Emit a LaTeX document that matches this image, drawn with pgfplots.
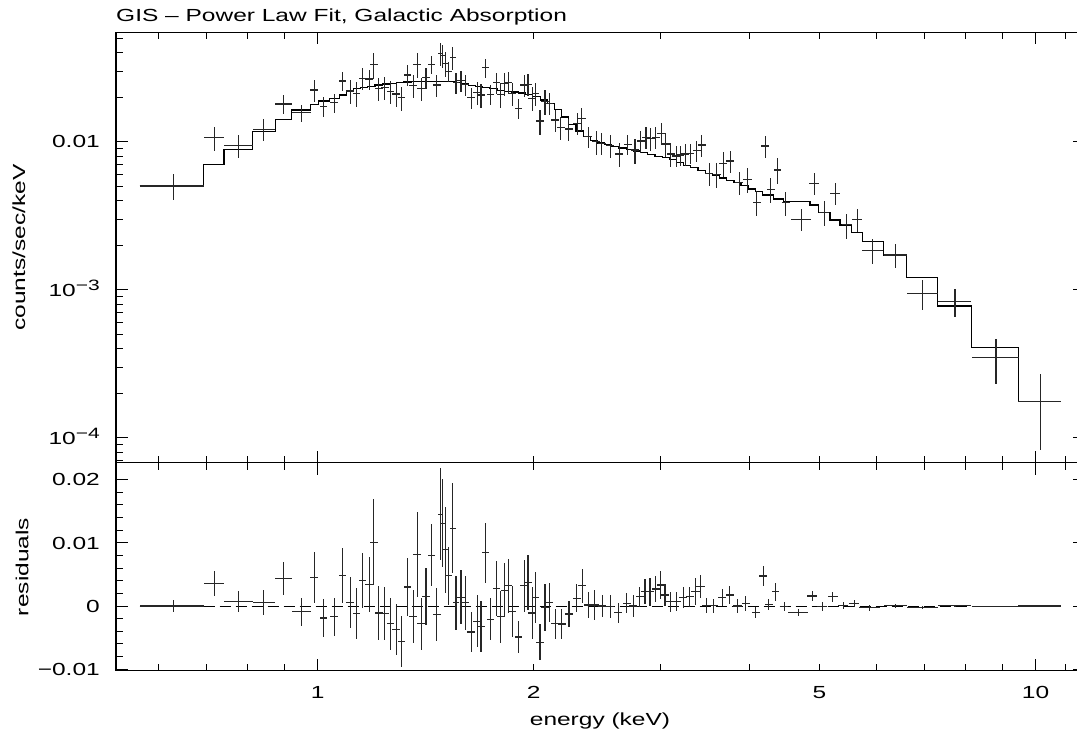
\documentclass[border=0pt]{standalone}
\usepackage{fontspec}
\setmainfont{Liberation Sans}[FakeStretch=1.4]
\usepackage{pgfplots}
\usepackage{pgfplotstable}
\pgfplotsset{compat=1.18}
\newcommand{\lbl}{\fontsize{17.5}{20}\selectfont}
\newcommand{\sups}[1]{\raisebox{6pt}{\fontsize{15}{15}\selectfont #1}}

% energy, counts/sec/keV, relative x half-width, relative y error
\pgfplotstableread{
E F dx dy
0.630 0.005018 0.103 0.20
0.7185 0.01064 0.032 0.19
0.7765 0.00940 0.0457 0.175
0.842 0.01212 0.0356 0.172
0.8966 0.01797 0.0268 0.142
0.9493 0.01570 0.0302 0.13
0.990 0.02234 0.0126 0.172
1.019 0.01724 0.012 0.154
1.055 0.01835 0.012 0.149
1.084 0.0257 0.012 0.147
1.110 0.02199 0.012 0.18
1.134 0.02121 0.012 0.187
1.156 0.02679 0.012 0.167
1.180 0.02651 0.012 0.152
1.198 0.03331 0.012 0.20
1.217 0.02293 0.012 0.18
1.241 0.02317 0.012 0.172
1.263 0.02177 0.012 0.18
1.287 0.02099 0.012 0.18
1.310 0.01983 0.012 0.19
1.334 0.02822 0.012 0.162
1.359 0.0239 0.012 0.175
1.376 0.03331 0.012 0.187
1.394 0.02293 0.012 0.18
1.416 0.02706 0.012 0.159
1.442 0.03331 0.012 0.145
1.466 0.02415 0.012 0.172
1.483 0.03953 0.008 0.175
1.494 0.03811 0.008 0.175
1.507 0.03383 0.008 0.19
1.524 0.02972 0.010 0.154
1.543 0.03695 0.010 0.18
1.559 0.02504 0.010 0.159
1.584 0.02584 0.012 0.164
1.607 0.0244 0.012 0.164
1.637 0.01993 0.012 0.162
1.668 0.02154 0.012 0.175
1.689 0.02067 0.012 0.184
1.715 0.03162 0.012 0.149
1.743 0.02088 0.012 0.154
1.774 0.02504 0.012 0.167
1.797 0.02088 0.012 0.187
1.823 0.02478 0.012 0.175
1.846 0.02517 0.012 0.167
1.867 0.02121 0.012 0.18
1.905 0.0168 0.012 0.159
1.940 0.02415 0.012 0.167
1.964 0.0244 0.012 0.167
1.990 0.01963 0.012 0.184
2.013 0.02121 0.012 0.18
2.041 0.0138 0.012 0.192
2.074 0.01864 0.012 0.192
2.103 0.01816 0.012 0.169
2.142 0.01401 0.012 0.167
2.182 0.01244 0.013 0.18
2.239 0.01218 0.013 0.167
2.301 0.0133 0.013 0.167
2.332 0.01438 0.013 0.175
2.383 0.01081 0.013 0.167
2.443 0.0100 0.013 0.187
2.488 0.00975 0.013 0.172
2.555 0.0094 0.013 0.172
2.630 0.00826 0.013 0.18
2.704 0.0096 0.013 0.154
2.768 0.00879 0.013 0.192
2.819 0.01011 0.013 0.167
2.867 0.0107 0.013 0.172
2.911 0.01054 0.013 0.175
2.958 0.0107 0.013 0.167
3.010 0.01139 0.013 0.167
3.055 0.00965 0.013 0.18
3.105 0.00826 0.013 0.184
3.158 0.0080 0.013 0.162
3.199 0.00813 0.013 0.154
3.251 0.00826 0.013 0.175
3.303 0.00835 0.013 0.159
3.374 0.0087 0.013 0.167
3.429 0.0095 0.013 0.169
3.511 0.00611 0.013 0.18
3.598 0.00602 0.013 0.192
3.676 0.00714 0.013 0.192
3.756 0.0074 0.013 0.169
3.870 0.00529 0.013 0.18
3.971 0.00557 0.013 0.195
4.092 0.00387 0.012 0.192
4.203 0.00935 0.012 0.172
4.279 0.00477 0.012 0.192
4.372 0.00644 0.012 0.197
4.491 0.00387 0.012 0.184
4.718 0.00299 0.032 0.172
4.922 0.00523 0.016 0.167
5.083 0.00332 0.016 0.192
5.260 0.00448 0.016 0.167
5.460 0.00274 0.016 0.192
5.650 0.00299 0.016 0.18
5.934 0.001836 0.034 0.192
6.386 0.001715 0.038 0.18
6.964 0.000945 0.049 0.229
7.725 0.000830 0.054 0.217
8.81 0.000349 0.075 0.334
10.15 0.0001751 0.068 0.53
}\spec

% energy, residual, relative x half-width, absolute y error
\pgfplotstableread{
E R dx dy
0.630 0 0.103 0.00087
0.7185 0.00358 0.032 0.002
0.7765 0.00068 0.0457 0.00166
0.842 0.00058 0.0356 0.002
0.8966 0.00437 0.0268 0.00263
0.9493 -0.0009 0.0302 0.0022
0.990 0.0045 0.0126 0.004
1.019 -0.0019 0.012 0.003
1.055 -0.0017 0.012 0.003
1.084 0.0048 0.012 0.0043
1.110 0.0006 0.012 0.004
1.134 -0.0012 0.012 0.004
1.156 0.0040 0.012 0.0043
1.180 0.0034 0.012 0.0043
1.198 0.0101 0.012 0.0068
1.217 -0.0011 0.012 0.0042
1.241 -0.0012 0.012 0.0042
1.263 -0.0028 0.012 0.0041
1.287 -0.0037 0.012 0.004
1.310 -0.0056 0.012 0.004
1.334 0.0030 0.012 0.0046
1.359 -0.0016 0.012 0.0042
1.376 0.0081 0.012 0.0067
1.394 -0.0028 0.012 0.0041
1.416 0.0015 0.012 0.0045
1.442 0.0080 0.012 0.0049
1.466 -0.0013 0.012 0.0042
1.483 0.0145 0.008 0.0073
1.494 0.0131 0.008 0.007
1.507 0.0089 0.008 0.0068
1.524 0.0048 0.010 0.0046
1.543 0.0123 0.010 0.0071
1.559 0.0005 0.010 0.0043
1.584 0.0014 0.012 0.0043
1.607 0.0005 0.012 0.0043
1.637 -0.0041 0.012 0.0032
1.668 -0.0024 0.012 0.0041
1.689 -0.0032 0.012 0.004
1.715 0.0084 0.012 0.0047
1.743 -0.0021 0.012 0.0033
1.774 0.0028 0.012 0.0043
1.797 -0.0017 0.012 0.0041
1.823 0.0025 0.012 0.0043
1.846 0.0032 0.012 0.0043
1.867 -0.0009 0.012 0.004
1.905 -0.0049 0.012 0.0026
1.940 0.0032 0.012 0.0041
1.964 0.0037 0.012 0.0043
1.990 -0.0011 0.012 0.0041
2.013 0.0013 0.012 0.004
2.041 -0.0057 0.012 0.0028
2.074 -0.0002 0.012 0.0037
2.103 0.0006 0.012 0.0031
2.142 -0.0028 0.012 0.0024
2.188 -0.00284 0.013 0.0023
2.240 -0.00126 0.013 0.002
2.296 0.00121 0.013 0.0022
2.338 0.00321 0.013 0.0027
2.383 0.00016 0.013 0.0021
2.434 0.00016 0.013 0.0024
2.492 0 0.013 0.0018
2.555 -0.0001 0.013 0.0018
2.624 -0.00105 0.013 0.0016
2.695 0.00042 0.013 0.0016
2.753 0 0.013 0.0018
2.812 0.00147 0.013 0.0016
2.858 0.00226 0.013 0.002
2.904 0.00226 0.013 0.0022
2.960 0.00269 0.013 0.0021
3.005 0.00332 0.013 0.0022
3.047 0.00174 0.013 0.0018
3.102 0.00068 0.013 0.0016
3.162 0.00068 0.013 0.0015
3.230 0.00137 0.013 0.0017
3.300 0.00147 0.013 0.0016
3.361 0.00226 0.013 0.0021
3.415 0.00305 0.013 0.0018
3.482 0.00005 0.013 0.0012
3.565 0.00005 0.013 0.0011
3.661 0.00132 0.013 0.0013
3.752 0.00174 0.013 0.0014
3.846 0 0.013 0.0011
3.950 0.00042 0.013 0.0012
4.078 -0.00105 0.012 0.0009
4.176 0.00474 0.012 0.0016
4.253 0.00026 0.012 0.0009
4.345 0.00226 0.012 0.0014
4.467 -0.0001 0.012 0.0007
4.672 -0.0010 0.032 0.0006
4.886 0.00158 0.016 0.0008
5.046 -0.0001 0.016 0.0007
5.216 0.00147 0.016 0.0008
5.397 0.00005 0.016 0.0006
5.590 0.00042 0.016 0.0005
5.878 -0.00026 0.034 0.00045
6.386 0.00005 0.038 0.0003
6.964 -0.00027 0.049 0.00022
7.725 0.00005 0.054 0.00018
8.81 -0.00006 0.075 0.00012
10.15 0 0.068 0.00009
}\resid

\begin{document}
\begin{tikzpicture}
\useasboundingbox (0,0) rectangle (1077pt,734pt);

\begin{axis}[scale only axis, width=969pt, height=430.4pt,
  at={(116pt,271.3pt)}, anchor=south west,
  xmode=log, xmin=0.5239, xmax=11.72,
  ymode=log, ymin=6.78e-5, ymax=0.05483,
  axis line style={line width=1.1pt}, tick style={line width=1pt, black},
  tick align=inside, major tick length=12pt, minor tick length=7pt,
  xtick={1,10}, minor xtick={0.6,0.7,0.8,0.9,2,3,4,5,6,7,8,9,11},
  xticklabels={},
  ytick={1e-4,1e-3,1e-2}, yticklabels={10\sups{−4},10\sups{−3},0.01},
  minor ytick={7e-5,8e-5,9e-5,2e-4,3e-4,4e-4,5e-4,6e-4,7e-4,8e-4,9e-4,2e-3,3e-3,4e-3,5e-3,6e-3,7e-3,8e-3,9e-3,0.02,0.03,0.04,0.05},
  yticklabel style={font=\lbl, anchor=base east, inner sep=0pt, xshift=-16pt, yshift=-6.3pt}]
\addplot[const plot mark left, black, line width=1.2pt] coordinates {
(0.565,5.02e-3) (0.6934,7.04e-3) (0.741,8.88e-3) (0.812,1.169e-2) (0.8727,1.417e-2)
(0.9206,1.637e-2) (0.978,1.789e-2) (1.003,1.884e-2) (1.038,1.964e-2) (1.072,2.068e-2)
(1.096,0.02225) (1.122,0.02285) (1.148,0.02335) (1.175,0.02371) (1.202,0.02413)
(1.230,0.02451) (1.259,0.02481) (1.288,0.02512) (1.318,0.02527) (1.349,0.02539)
(1.380,0.02543) (1.413,0.02543) (1.445,0.02543) (1.479,0.02543) (1.514,0.02543)
(1.549,0.02500) (1.585,0.02454) (1.622,0.02409) (1.660,0.02364) (1.698,0.02320)
(1.738,0.02274) (1.778,0.02228) (1.820,0.02194) (1.862,0.02163) (1.905,0.02130)
(1.950,0.02094) (1.995,0.02020) (2.042,0.01913) (2.089,0.01815) (2.138,0.01651)
(2.188,0.01469) (2.239,0.0130) (2.291,0.01180) (2.344,0.01079) (2.399,0.01015)
(2.455,0.009784) (2.512,0.009559) (2.570,0.00931) (2.630,0.009053) (2.692,0.00887)
(2.754,0.008652) (2.818,0.008426) (2.884,0.008193) (2.951,0.007966) (3.020,0.007772)
(3.090,0.007535) (3.162,0.007226) (3.236,0.00694) (3.311,0.006653) (3.388,0.006379)
(3.467,0.006107) (3.548,0.005884) (3.631,0.005685) (3.715,0.005495) (3.802,0.005293)
(3.890,0.005052) (3.981,0.004791) (4.074,0.004594) (4.169,0.004364) (4.314,0.00410)
(4.454,0.003932) (4.853,0.003736) (4.983,0.003314) (5.173,0.002958) (5.342,0.002735)
(5.546,0.002427) (5.745,0.002112) (6.138,0.001715) (6.616,0.001213) (7.298,7.76e-4)
(8.147,4.08e-4) (9.465,1.751e-4) (10.84,1.751e-4)};
\addplot[only marks, mark=text, text mark={},
  error bars/.cd, x dir=both, y dir=both,
  x explicit relative, y explicit relative, error mark=none,
  error bar style={line width=1.1pt, black!85}]
  table[x=E, y=F, x error=dx, y error=dy] {\spec};
\end{axis}

\begin{axis}[scale only axis, width=969pt, height=208pt,
  at={(116pt,63.3pt)}, anchor=south west,
  xmode=log, xmin=0.5239, xmax=11.72,
  ymin=-0.01022, ymax=0.02264, scaled y ticks=false,
  axis line style={line width=1.1pt}, tick style={line width=1pt, black},
  tick align=inside, major tick length=12pt, minor tick length=7pt,
  xtick={1,10}, xticklabels={1,10},
  extra x ticks={2,5}, extra x tick labels={2,5},
  extra x tick style={major tick length=7pt},
  minor xtick={0.6,0.7,0.8,0.9,3,4,6,7,8,9,11},
  xticklabel style={font=\lbl, anchor=base, inner sep=0pt, yshift=-27.6pt},
  ytick={-0.01,0,0.01,0.02}, yticklabels={−0.01,0,0.01,0.02}, minor y tick num=4,
  yticklabel style={font=\lbl, anchor=base east, inner sep=0pt, xshift=-16pt, yshift=-6.3pt}]
\addplot[black, line width=1pt, dash pattern=on 11pt off 5pt] coordinates {(0.565,0) (10.84,0)};
\addplot[only marks, mark=text, text mark={},
  error bars/.cd, x dir=both, y dir=both,
  x explicit relative, y explicit, error mark=none,
  error bar style={line width=1.1pt, black!85}]
  table[x=E, y=R, x error=dx, y error=dy] {\resid};
\end{axis}

\node[anchor=base west, inner sep=0pt, font=\lbl] at (116pt,712.7pt) {GIS – Power Law Fit, Galactic Absorption};
\node[rotate=90, anchor=base, inner sep=0pt, font=\lbl] at (25pt,486.5pt) {counts/sec/keV};
\node[rotate=90, anchor=base, inner sep=0pt, font=\lbl] at (28.3pt,167pt) {residuals};
\node[anchor=base, inner sep=0pt, font=\lbl] at (600pt,8pt) {energy (keV)};
\end{tikzpicture}
\end{document}
